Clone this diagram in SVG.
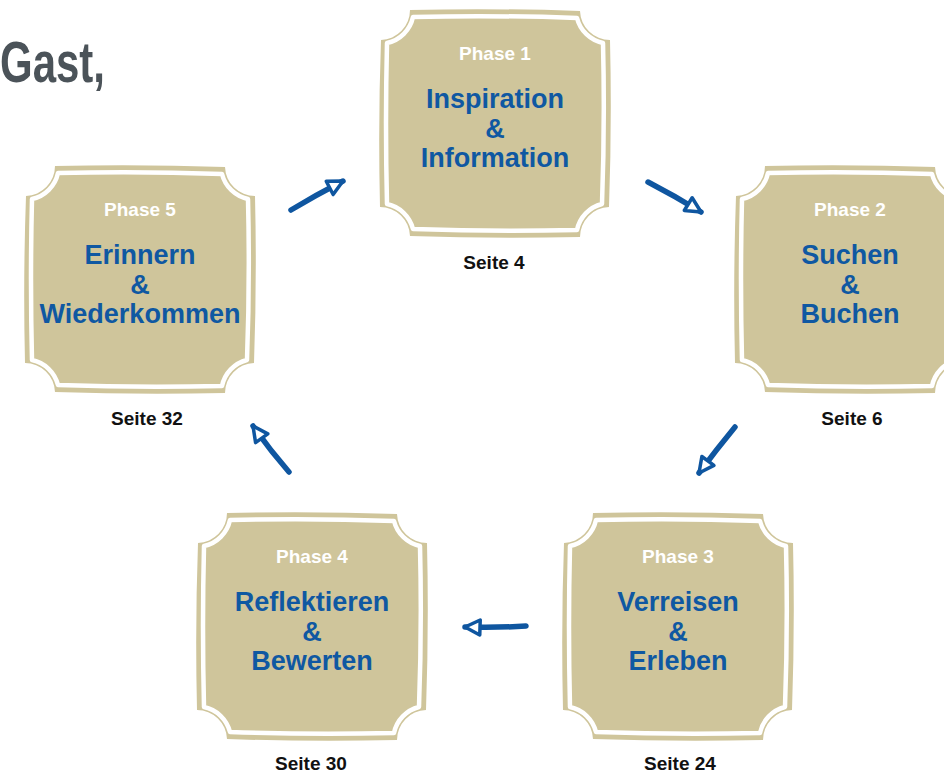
<svg xmlns="http://www.w3.org/2000/svg" xmlns:xlink="http://www.w3.org/1999/xlink" width="944" height="774" viewBox="0 0 944 774">
  <style>
    .phase { font-family: "Liberation Sans", Arial, sans-serif; font-weight: bold; font-size: 19px; fill: #ffffff; text-anchor: middle; }
    .title { font-family: "Liberation Sans", Arial, sans-serif; font-weight: bold; font-size: 27px; fill: #0f58a2; text-anchor: middle; }
    .page { font-family: "Liberation Sans", Arial, sans-serif; font-weight: bold; font-size: 19px; fill: #111111; text-anchor: middle; }
    .head { font-family: "Liberation Sans", Arial, sans-serif; font-weight: bold; font-size: 57px; fill: #4b5359; }
    .arrow { fill: none; stroke: #0f56a0; stroke-width: 5.5; stroke-linecap: round; stroke-linejoin: round; marker-end: url(#head); }
  </style>
  <defs>
    <g id="frame">
      <path d="M30,0 Q115,-2 200,1 A30 30 0 0 0 230,30 Q232,113 229,197 A30 30 0 0 0 200,227 Q115,229 30,226 A30 30 0 0 0 0,197 Q-2,113 1,30 A30 30 0 0 0 30,0 Z" fill="#cfc59b"/>
      <path d="M33,7 Q115,5 197,8 A34 34 0 0 0 223,33 Q225,113 222,194 A34 34 0 0 0 197,220 Q115,222 33,219 A34 34 0 0 0 7,194 Q5,113 7,33 A34 34 0 0 0 33,7 Z" fill="none" stroke="#ffffff" stroke-width="4.5" stroke-linejoin="round"/>
    </g>
    <marker id="head" markerUnits="userSpaceOnUse" viewBox="-4 -11 24 22" markerWidth="24" markerHeight="22" refX="15" refY="0" orient="auto" overflow="visible">
      <path d="M0,-7.5 L15,0 L0,7.5 Z" fill="#ffffff" stroke="#0f56a0" stroke-width="3.5" stroke-linejoin="round"/>
    </marker>
  </defs>

  <rect x="0" y="0" width="944" height="774" fill="#ffffff"/>

  <text class="head" x="0" y="82" textLength="105" lengthAdjust="spacingAndGlyphs">Gast,</text>

  <g id="node1">
    <use xlink:href="#frame" href="#frame" x="380" y="10"/>
    <text class="phase" x="495" y="60">Phase 1</text>
    <text class="title" x="495" y="108">Inspiration</text>
    <text class="title" x="495" y="138">&amp;</text>
    <text class="title" x="495" y="167">Information</text>
    <text class="page" x="494" y="269">Seite 4</text>
  </g>

  <g id="node2">
    <use xlink:href="#frame" href="#frame" x="735" y="166"/>
    <text class="phase" x="850" y="216">Phase 2</text>
    <text class="title" x="850" y="264">Suchen</text>
    <text class="title" x="850" y="294">&amp;</text>
    <text class="title" x="850" y="323">Buchen</text>
    <text class="page" x="852" y="425">Seite 6</text>
  </g>

  <g id="node3">
    <use xlink:href="#frame" href="#frame" x="563" y="513"/>
    <text class="phase" x="678" y="563">Phase 3</text>
    <text class="title" x="678" y="611">Verreisen</text>
    <text class="title" x="678" y="641">&amp;</text>
    <text class="title" x="678" y="670">Erleben</text>
    <text class="page" x="680" y="770">Seite 24</text>
  </g>

  <g id="node4">
    <use xlink:href="#frame" href="#frame" x="197" y="513"/>
    <text class="phase" x="312" y="563">Phase 4</text>
    <text class="title" x="312" y="611">Reflektieren</text>
    <text class="title" x="312" y="641">&amp;</text>
    <text class="title" x="312" y="670">Bewerten</text>
    <text class="page" x="311" y="770">Seite 30</text>
  </g>

  <g id="node5">
    <use xlink:href="#frame" href="#frame" x="25" y="166"/>
    <text class="phase" x="140" y="216">Phase 5</text>
    <text class="title" x="140" y="264">Erinnern</text>
    <text class="title" x="140" y="294">&amp;</text>
    <text class="title" x="140" y="323">Wiederkommen</text>
    <text class="page" x="147" y="425">Seite 32</text>
  </g>

  <g id="connectors">
    <path class="arrow" d="M291,210 Q316,195 343,181"/>
    <path class="arrow" d="M648,182 Q675,196 701,212"/>
    <path class="arrow" d="M735,427 Q716,450 699,473"/>
    <path class="arrow" d="M526,626 Q496,628 465,627"/>
    <path class="arrow" d="M289,472 Q270,450 253,426"/>
  </g>
</svg>
